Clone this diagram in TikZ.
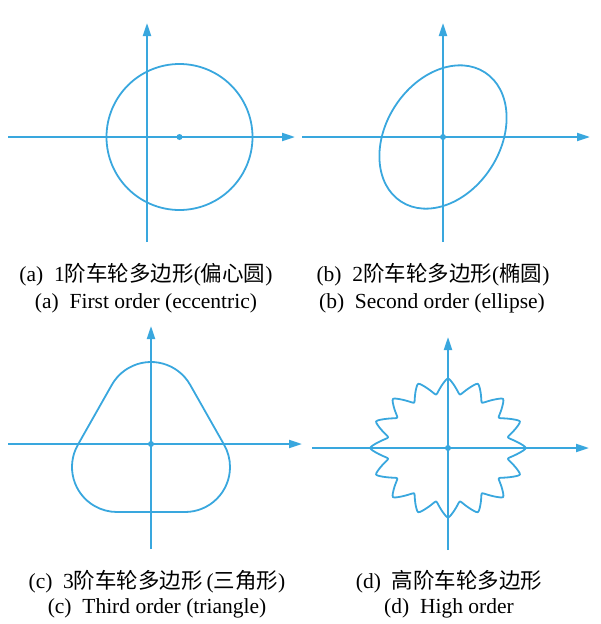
\documentclass[tikz,border=0pt]{standalone}
\usepackage{fontspec}
\setmainfont{Liberation Serif}
\newfontfamily\cjk{Noto Sans CJK SC}
\usetikzlibrary{arrows.meta, calc}
\definecolor{axisblue}{RGB}{57,167,222}

\begin{document}
\begin{tikzpicture}[x=1pt, y=1pt]
    \tikzset{
      axis/.style={axisblue, line width=2pt, -{Triangle[length=13pt, width=8pt]}},
      curve/.style={axisblue, line width=1.8pt},
      centre/.style={fill=axisblue},
      caption/.style={anchor=base, inner sep=0pt, font=\fontsize{21.5}{25}\selectfont}
    }
    \useasboundingbox (0,0) rectangle (600,-624);
    % (a) first order: eccentric circle
    \begin{scope}[shift={(147,-137)}]
      \coordinate (oa) at (0,0);
      \coordinate (ca) at (32.5,0);
      \coordinate (axl) at (-139,0);
      \coordinate (axr) at (148,0);
      \coordinate (ayb) at (0,-105);
      \coordinate (ayt) at (0,114);
      \draw[axis] (axl) -- (axr);
      \draw[axis] (ayb) -- (ayt);
      \draw[curve] (ca) circle[radius=73];
      \fill[centre] (ca) circle[radius=3];
    \end{scope}
    % (b) second order: ellipse
    \begin{scope}[shift={(443,-137)}]
      \coordinate (ob) at (0,0);
      \coordinate (bxl) at (-141,0);
      \coordinate (bxr) at (147,0);
      \coordinate (byb) at (0,-105);
      \coordinate (byt) at (0,114);
      \draw[axis] (bxl) -- (bxr);
      \draw[axis] (byb) -- (byt);
      \draw[curve, rotate=57] (ob) ellipse[x radius=77, y radius=57];
      \fill[centre] (ob) circle[radius=3];
    \end{scope}
    % (c) third order: rounded triangle
    \begin{scope}[shift={(151,-444)}]
      \coordinate (oc) at (0,0);
      \coordinate (cxl) at (-143,0);
      \coordinate (cxr) at (151,0);
      \coordinate (cyb) at (0,-105);
      \coordinate (cyt) at (0,118);
      \coordinate (tA) at (0,37);
      \coordinate (tB) at (-34,-23);
      \coordinate (tC) at (34,-23);
      \draw[axis] (cxl) -- (cxr);
      \draw[axis] (cyb) -- (cyt);
      \draw[curve] ($(tA)+(29.5:45)$) arc[start angle=29.5, end angle=150.5, radius=45]
        -- ($(tB)+(150.5:45)$) arc[start angle=150.5, end angle=270, radius=45]
        -- ($(tC)+(270:45)$) arc[start angle=270, end angle=389.5, radius=45] -- cycle;
      \fill[centre] (oc) circle[radius=3];
    \end{scope}
    % (d) high order: 16 lobes
    \begin{scope}[shift={(448,-448)}]
      \coordinate (od) at (0,0);
      \coordinate (dxl) at (-136,0);
      \coordinate (dxr) at (141,0);
      \coordinate (dyb) at (0,-102);
      \coordinate (dyt) at (0,111);
      \draw[axis] (dxl) -- (dxr);
      \draw[axis] (dyb) -- (dyt);
      \draw[curve, xscale=1.12, line join=round] plot[domain=0:360, samples=321]
        (\x:{62+7.5*asin(0.97*cos(16*\x))/asin(0.97)}) -- cycle;
      \fill[centre] (od) circle[radius=3];
    \end{scope}
    % captions
    \node[caption] (capA1) at (146,-281) {(a)~~1{\cjk 阶车轮多边形}({\cjk 偏心圆})};
    \node[caption] (capA2) at (146,-308.5) {(a)~~First order (eccentric)};
    \node[caption] (capB1) at (433,-281) {(b)~~2{\cjk 阶车轮多边形}({\cjk 椭圆})};
    \node[caption] (capB2) at (432,-308.5) {(b)~~Second order (ellipse)};
    \node[caption] (capC1) at (157,-588) {(c)~~3{\cjk 阶车轮多边形}\,({\cjk 三角形})};
    \node[caption] (capC2) at (157,-613.5) {(c)~~Third order (triangle)};
    \node[caption] (capD1) at (449,-588) {(d)~~{\cjk 高阶车轮多边形}};
    \node[caption] (capD2) at (449,-613.5) {(d)~~High order};
  \end{tikzpicture}
\end{document}
